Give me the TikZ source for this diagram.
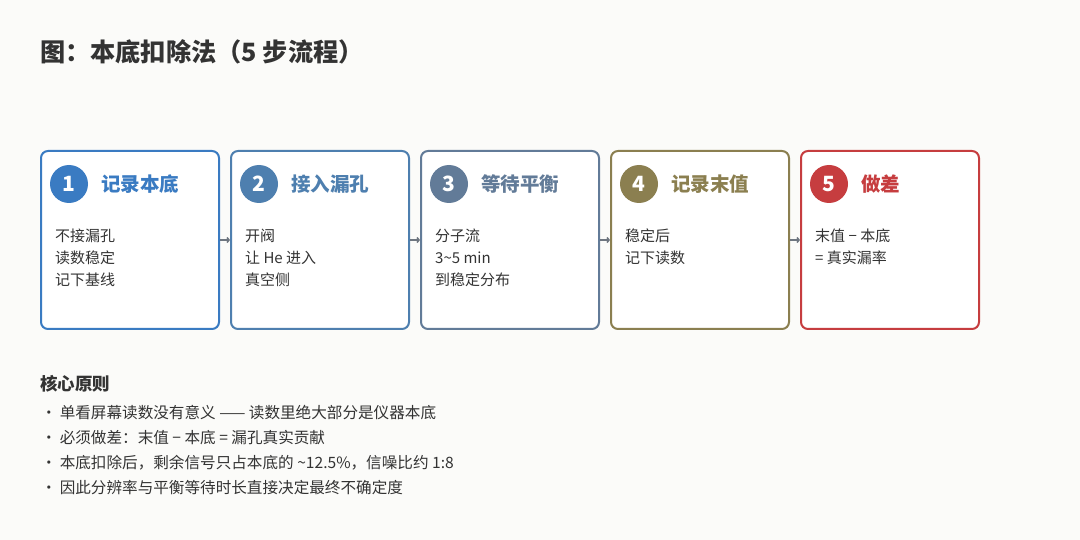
\documentclass[tikz,border=0pt]{standalone}
\usepackage{fontspec}
\newfontfamily\cjk{Noto Sans CJK SC}
\usetikzlibrary{arrows.meta}
\definecolor{bg}{HTML}{FBFBF9}
\definecolor{txt}{HTML}{333333}
\definecolor{cA}{HTML}{3A7BC2}
\definecolor{cB}{HTML}{4E7FAF}
\definecolor{cC}{HTML}{627B98}
\definecolor{cD}{HTML}{8B7F50}
\definecolor{cE}{HTML}{C63D3F}
\definecolor{conn}{HTML}{6E7680}
\begin{document}
\begin{tikzpicture}[x=1pt,y=-1pt,font=\cjk,
 box/.style={draw=#1,line width=2pt,rounded corners=7pt,fill=white,minimum width=178pt,minimum height=178pt,inner sep=0pt},
 num/.style={circle,fill=#1,minimum size=38pt,inner sep=0pt,text=white,font=\cjk\bfseries\fontsize{21}{21}\selectfont},
 ttl/.style={anchor=west,text=#1,font=\cjk\bfseries\fontsize{19.5}{19.5}\selectfont,inner sep=0pt},
 body/.style={anchor=north west,text=txt,align=left,font=\cjk\fontsize{15}{22}\selectfont,inner sep=0pt},
 conn/.style={draw=conn,line width=1.5pt,-{Straight Barb[length=2pt,width=5pt]}},
 bul/.style={anchor=west,text=txt,font=\cjk\fontsize{15.6}{15.6}\selectfont,inner sep=0pt}]
\fill[bg] (0,0) rectangle (1080,540);
\node[anchor=west,text=txt,font=\cjk\bfseries\fontsize{25.2}{25.2}\selectfont,inner sep=0pt] (title) at (40,52) {图：本底扣除法（5 步流程）};
\foreach \i/\c/\t/\b in {1/cA/记录本底/{不接漏孔\\读数稳定\\记下基线},2/cB/接入漏孔/{开阀\\让 He 进入\\真空侧},3/cC/等待平衡/{分子流\\3\textasciitilde5 min\\到稳定分布},4/cD/记录末值/{稳定后\\记下读数},5/cE/做差/{末值 − 本底\\= 真实漏率}}{
 \node[box=\c] (b\i) at ({130+190*(\i-1)},240) {};
 \node[num=\c] (n\i) at ({69+190*(\i-1)},184) {\i};
 \node[ttl=\c] (t\i) at ({101+190*(\i-1)},184) {\t};
 \node[body] (d\i) at ({55+190*(\i-1)},229) {\b};
}
\foreach \a/\b in {1/2,2/3,3/4,4/5} \draw[conn] (b\a.east) -- (b\b.west);
\node[anchor=west,text=txt,font=\cjk\bfseries\fontsize{17.5}{17.5}\selectfont,inner sep=0pt] (h) at (40,384) {核心原则};
\node[bul] (p1) at (41,413) {·\hspace{3pt}单看屏幕读数没有意义 —— 读数里绝大部分是仪器本底};
\node[bul] (p2) at (41,438) {·\hspace{3pt}必须做差：末值 − 本底 = 漏孔真实贡献};
\node[bul] (p3) at (41,463) {·\hspace{3pt}本底扣除后，剩余信号只占本底的 \textasciitilde12.5\%，信噪比约 1:8};
\node[bul] (p4) at (41,488) {·\hspace{3pt}因此分辨率与平衡等待时长直接决定最终不确定度};
\end{tikzpicture}
\end{document}
